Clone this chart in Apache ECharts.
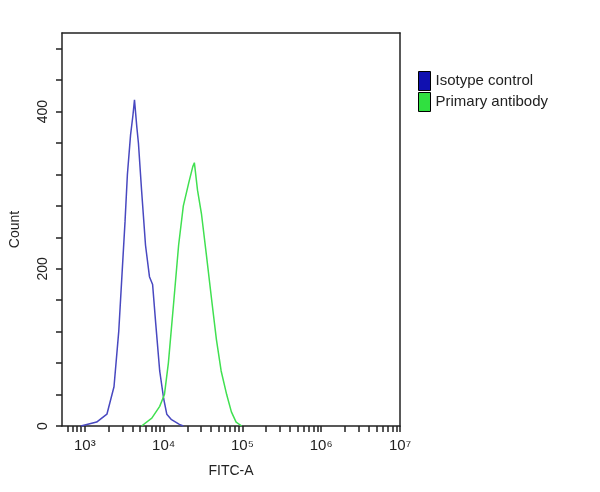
<!DOCTYPE html><html><head><meta charset="utf-8"><script src="https://cdn.jsdelivr.net/npm/echarts@6/dist/echarts.min.js"></script></head><body style="margin:0;background:#fff"><div id="c" style="width:600px;height:492px"></div><script>
const blueX=[2.95,3.15,3.28,3.37,3.43,3.47,3.51,3.54,3.58,3.61,3.63,3.66,3.68,3.72,3.77,3.82,3.86,3.90,3.95,4.0,4.04,4.10,4.20,4.25];
const blueY=[0,5,15,50,120,190,260,320,370,395,415,380,360,300,230,190,180,130,70,35,15,8,2,0];
const greenX=[3.72,3.85,3.95,4.01,4.06,4.13,4.19,4.25,4.32,4.37,4.39,4.43,4.48,4.54,4.61,4.67,4.73,4.80,4.86,4.92,4.99];
const greenY=[0,10,25,40,80,160,230,280,310,330,335,300,270,220,160,110,70,40,18,5,0];
const decades=[3,4,5,6,7];
const yTicks=[0,200,400];
const minor=[];for(let d=2;d<7;d++)for(let k=2;k<=9;k++){const v=d+Math.log10(k);if(v>2.71)minor.push(v);}
const yMinor=[];for(let v=0;v<=480;v+=40)yMinor.push(v);
const sup={'3':'³','4':'⁴','5':'⁵','6':'⁶','7':'⁷'};
const ch=echarts.init(document.getElementById('c'));
const ax={color:'#222',width:1.5};
const F='Liberation Sans';
ch.setOption({animation:false,
grid:{left:60,right:200,top:33,bottom:66},
legend:{left:413,top:66,orient:'vertical',itemWidth:12,itemHeight:19,itemGap:1,icon:'rect',textStyle:{fontFamily:F,fontSize:15,color:'#222'},data:[{name:'Isotype control',itemStyle:{color:'#1010b0',borderColor:'#000',borderWidth:1}},{name:'Primary antibody',itemStyle:{color:'#30e040',borderColor:'#000',borderWidth:1}}]},
xAxis:[{type:'value',min:2.71,max:7,name:'FITC-A',nameLocation:'middle',nameGap:38,nameTextStyle:{fontFamily:F,fontSize:14,color:'#222'},
axisLine:{lineStyle:ax},splitLine:{show:false},
axisTick:{customValues:minor.concat(decades),length:6,lineStyle:ax},
axisLabel:{customValues:decades,formatter:v=>'10'+sup[Math.round(v)],fontFamily:F,fontSize:15,color:'#222',margin:12}},
{type:'value',min:2.71,max:7,position:'top',axisLine:{show:true,onZero:false,lineStyle:ax},axisTick:{show:false},axisLabel:{show:false},splitLine:{show:false}}],
yAxis:[{type:'value',min:0,max:500,name:'Count',nameLocation:'middle',nameGap:40,nameTextStyle:{fontFamily:F,fontSize:14,color:'#222'},
axisLine:{show:true,lineStyle:ax},splitLine:{show:false},
axisTick:{customValues:yMinor,length:6,lineStyle:ax},
axisLabel:{customValues:yTicks,rotate:90,fontFamily:F,fontSize:14,color:'#222',margin:12}},
{type:'value',min:0,max:500,position:'right',axisLine:{show:true,onZero:false,lineStyle:ax},axisTick:{show:false},axisLabel:{show:false},splitLine:{show:false}}],
series:[{name:'Isotype control',type:'line',symbol:'none',color:'#1010b0',lineStyle:{width:1.5,color:'#4848c0'},data:blueX.map((x,i)=>[x,blueY[i]])},
{name:'Primary antibody',type:'line',symbol:'none',color:'#30e040',lineStyle:{width:1.5,color:'#40e050'},data:greenX.map((x,i)=>[x,greenY[i]])}]
});
</script></body></html>
